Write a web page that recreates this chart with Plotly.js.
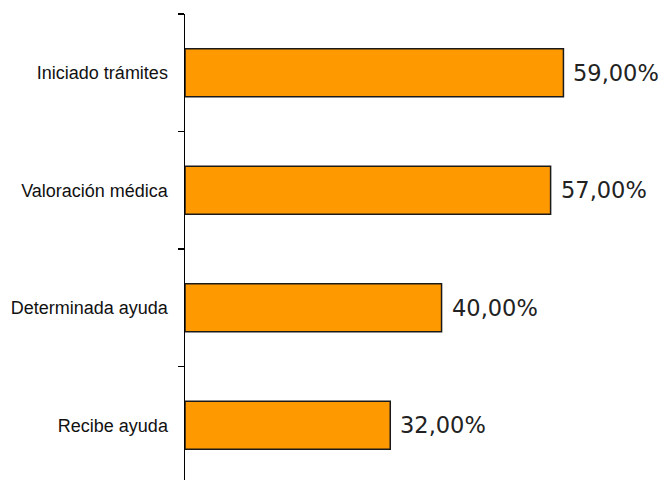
<!DOCTYPE html>
<html>
<head>
<meta charset="utf-8">
<script src="https://cdn.plot.ly/plotly-3.0.1.min.js"></script>
<style>html,body{margin:0;padding:0;background:#fff;}#chart{width:661px;height:480px;}</style>
</head>
<body>
<div id="chart"></div>
<script>
const categories = ['Iniciado trámites', 'Valoración médica', 'Determinada ayuda', 'Recibe ayuda'];
const values = [59, 57, 40, 32];
const labels = values.map(v => v.toFixed(2).replace('.', ',') + '%');

const trace = {
  type: 'bar',
  orientation: 'h',
  y: categories,
  x: values,
  width: 0.41,
  marker: { color: '#FF9900', line: { color: '#1a1a1a', width: 1.5 } },
  hoverinfo: 'none'
};

const annotations = categories.map((c, i) => ({
  x: values[i],
  y: c,
  xref: 'x',
  yref: 'y',
  text: labels[i],
  showarrow: false,
  xanchor: 'left',
  yanchor: 'middle',
  xshift: 8,
  font: { family: 'DejaVu Sans', size: 22.5, color: '#222' }
}));

const layout = {
  width: 661,
  height: 480,
  margin: { l: 185, r: 27, t: 14, b: 0, pad: 0 },
  paper_bgcolor: '#fff',
  plot_bgcolor: '#fff',
  showlegend: false,
  annotations: annotations,
  xaxis: { range: [0, 70], visible: false, fixedrange: true },
  yaxis: {
    type: 'category',
    categoryorder: 'array',
    categoryarray: categories,
    range: [3.466, -0.5],
    showline: true,
    linecolor: '#000',
    linewidth: 1.5,
    ticks: 'outside',
    tickson: 'boundaries',
    ticklen: 6,
    tickwidth: 1.5,
    tickcolor: '#000',
    showgrid: false,
    zeroline: false,
    ticklabelstandoff: 12,
    tickfont: { family: 'Liberation Sans, Arial, sans-serif', size: 18, color: '#111' }
  }
};

Plotly.newPlot('chart', [trace], layout, { displayModeBar: false, staticPlot: true });
</script>
</body>
</html>
